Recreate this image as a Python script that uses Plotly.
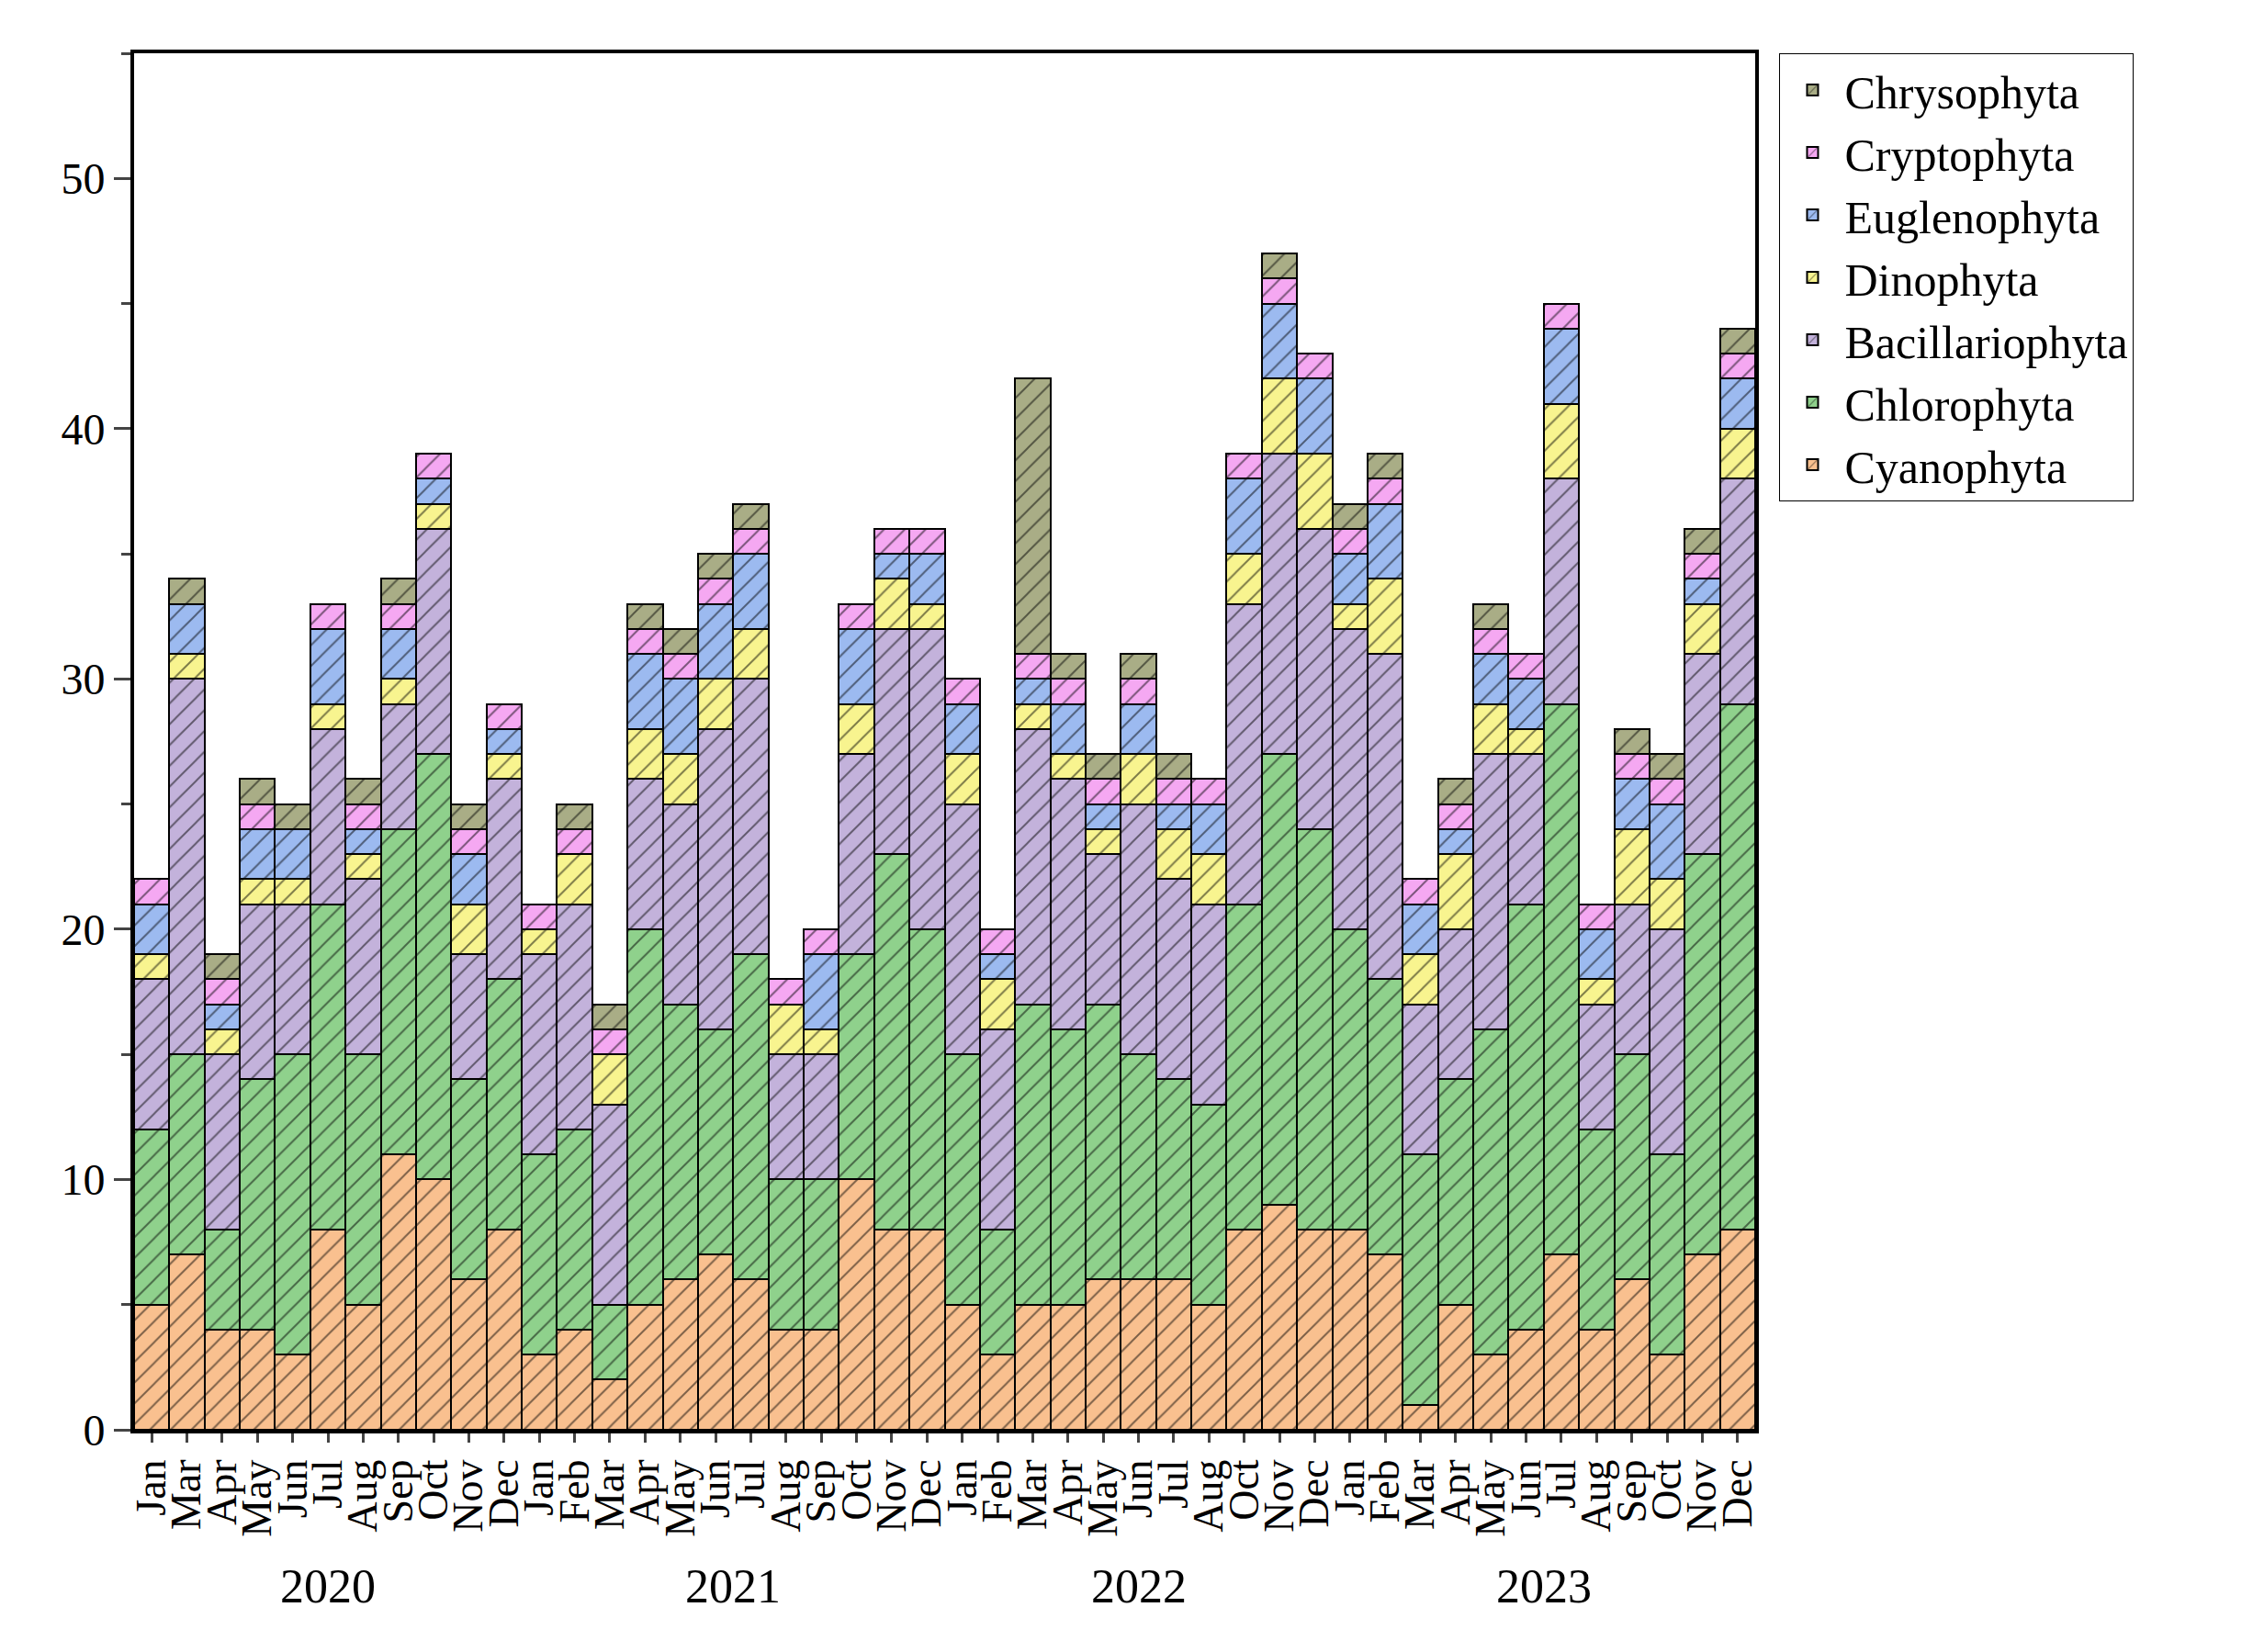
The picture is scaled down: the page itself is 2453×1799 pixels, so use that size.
import plotly.graph_objects as go

months = (["Jan", "Mar", "Apr", "May", "Jun", "Jul", "Aug", "Sep", "Oct", "Nov", "Dec"]
          + ["Jan", "Feb", "Mar", "Apr", "May", "Jun", "Jul", "Aug", "Sep", "Oct", "Nov", "Dec"]
          + ["Jan", "Feb", "Mar", "Apr", "May", "Jun", "Jul", "Aug", "Oct", "Nov", "Dec"]
          + ["Jan", "Feb", "Mar", "Apr", "May", "Jun", "Jul", "Aug", "Sep", "Oct", "Nov", "Dec"])
years = ["2020", "2021", "2022", "2023"]
year_counts = [11, 12, 11, 12]

cyanophyta = [5, 7, 4, 4, 3, 8, 5, 11, 10, 6, 8,
              3, 4, 2, 5, 6, 7, 6, 4, 4, 10, 8, 8,
              5, 3, 5, 5, 6, 6, 6, 5, 8, 9, 8,
              8, 7, 1, 5, 3, 4, 7, 4, 6, 3, 7, 8]
chlorophyta = [7, 8, 4, 10, 12, 13, 10, 13, 17, 8, 10,
               8, 8, 3, 15, 11, 9, 13, 6, 6, 9, 15, 12,
               10, 5, 12, 11, 11, 9, 8, 8, 13, 18, 16,
               12, 11, 10, 9, 13, 17, 22, 8, 9, 8, 16, 21]
bacillariophyta = [6, 15, 7, 7, 6, 7, 7, 5, 9, 5, 8,
                   8, 9, 8, 6, 8, 12, 11, 5, 5, 8, 9, 12,
                   10, 8, 11, 10, 6, 10, 8, 8, 12, 12, 12,
                   12, 13, 6, 6, 11, 6, 9, 5, 6, 9, 8, 9]
dinophyta = [1, 1, 1, 1, 1, 1, 1, 1, 1, 2, 1,
             1, 2, 2, 2, 2, 2, 2, 2, 1, 2, 2, 1,
             2, 2, 1, 1, 1, 2, 2, 2, 2, 3, 3,
             1, 3, 2, 3, 2, 1, 3, 1, 3, 2, 2, 2]
euglenophyta = [2, 2, 1, 2, 2, 3, 1, 2, 1, 2, 1,
                0, 0, 0, 3, 3, 3, 3, 0, 3, 3, 1, 2,
                2, 1, 1, 2, 1, 2, 1, 2, 3, 3, 3,
                2, 3, 2, 1, 2, 2, 3, 2, 2, 3, 1, 2]
cryptophyta = [1, 0, 1, 1, 0, 1, 1, 1, 1, 1, 1,
               1, 1, 1, 1, 1, 1, 1, 1, 1, 1, 1, 1,
               1, 1, 1, 1, 1, 1, 1, 1, 1, 1, 1,
               1, 1, 1, 1, 1, 1, 1, 1, 1, 1, 1, 1]
chrysophyta = [0, 1, 1, 1, 1, 0, 1, 1, 0, 1, 0,
               0, 1, 1, 1, 1, 1, 1, 0, 0, 0, 0, 0,
               0, 0, 11, 1, 1, 1, 1, 0, 0, 1, 0,
               1, 1, 0, 1, 1, 0, 0, 0, 1, 1, 1, 1]

series = [
    ("Cyanophyta", cyanophyta, "#F9C08F"),
    ("Chlorophyta", chlorophyta, "#8FD18C"),
    ("Bacillariophyta", bacillariophyta, "#C3B2DB"),
    ("Dinophyta", dinophyta, "#F8F48F"),
    ("Euglenophyta", euglenophyta, "#9CBAF0"),
    ("Cryptophyta", cryptophyta, "#F5A8F2"),
    ("Chrysophyta", chrysophyta, "#A9AD86"),
]

x = list(range(len(months)))
font = "Liberation Serif"

fig = go.Figure()
for name, vals, col in series:
    fig.add_trace(go.Bar(
        x=x, y=vals, name=name,
        marker=dict(color=col, line=dict(color="black", width=2),
                    pattern=dict(shape="/", fgcolor="black", size=16, solidity=0.12)),
    ))

# year labels under month ticks
start = 0
for yr, n in zip(years, year_counts):
    fig.add_annotation(x=start + (n - 1) / 2, y=0, xref="x", yref="paper",
                       text=yr, showarrow=False, yshift=-140, yanchor="top",
                       font=dict(family=font, size=52, color="black"))
    start += n

fig.update_layout(
    barmode="stack", bargap=0,
    width=2453, height=1799,
    plot_bgcolor="white", paper_bgcolor="white",
    font=dict(family=font, color="black"),
    margin=dict(l=138, r=550, t=50, b=250),
    xaxis=dict(
        tickvals=x, ticktext=months, tickangle=-90,
        range=[-0.5, len(months) - 0.5],
        tickfont=dict(size=46), ticks="outside", ticklen=10, tickwidth=3,
        showline=True, linecolor="black", linewidth=4, mirror=True, showgrid=False,
    ),
    yaxis=dict(
        range=[0, 55], dtick=10, tickfont=dict(size=48),
        ticks="outside", ticklen=18, tickwidth=3,
        minor=dict(dtick=5, ticks="outside", ticklen=10, tickwidth=3),
        showline=True, linecolor="black", linewidth=4, mirror=True,
        showgrid=False, zeroline=False,
    ),
    legend=dict(
        x=1.015, y=1.0, xanchor="left", yanchor="top",
        traceorder="reversed", font=dict(size=50, family=font),
        bordercolor="black", borderwidth=1, bgcolor="white",
        itemwidth=60, tracegroupgap=0,
    ),
)

fig.write_html("out.html")
